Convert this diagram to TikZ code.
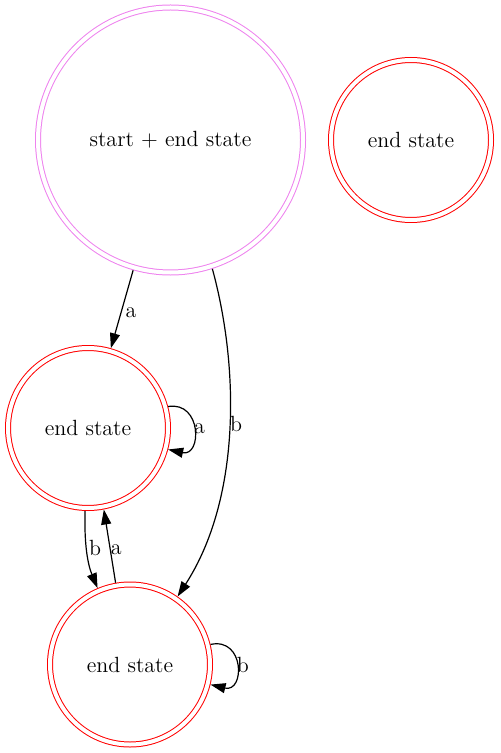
\documentclass[tikz,border=0pt]{standalone}
\usetikzlibrary{arrows.meta}
\definecolor{violetgv}{HTML}{EE82EE}
\tikzset{
	state/.style={circle, draw=red, double, double distance=2pt, line width=0.5pt,
		minimum size=80pt, inner sep=0pt, outer sep=1.5pt, font=\fontsize{11}{13}\selectfont},
	startstate/.style={state, draw=violetgv, minimum size=132.5pt},
	trans/.style={-{Triangle[length=7.5pt,width=5pt]}, line width=0.6pt},
	lbl/.style={anchor=west, inner sep=1pt, font=\fontsize{11}{13}\selectfont}
}
\begin{document}
\begin{tikzpicture}[x=0.5pt, y=-0.5pt]
	\useasboundingbox (0,0) rectangle (500,753);
	% states
	\node[startstate] (start) at (170.5,140) {start + end state};
	\node[state] (endTop) at (411,140) {end state};
	\node[state] (endMid) at (88,428) {end state};
	\node[state] (endLow) at (130,664.5) {end state};
	% transitions out of the start state
	\draw[trans] (start.254) -- node[lbl, pos=0.54, xshift=1pt] {a} (endMid.74);
	\draw[trans] (start.288) .. controls (240,370) and (240,500) .. node[lbl, pos=0.47, inner sep=0pt] {b} (endLow.55);
	% loops
	\draw[trans] (endMid.15) .. controls (202,401) and (202,457) .. node[lbl, pos=0.5, inner sep=0pt] {a} (endMid.-15);
	\draw[trans] (endLow.14) .. controls (245,637) and (245,693) .. node[lbl, pos=0.5, inner sep=0pt] {b} (endLow.-14);
	% between the two lower states
	\draw[trans] (endMid.268) .. controls (84,545) and (88,565) .. node[lbl, pos=0.42] {b} (endLow.113);
	\draw[trans] (endLow.100) -- node[lbl, pos=0.45, inner sep=0pt] {a} (endMid.-79);
\end{tikzpicture}
\end{document}
